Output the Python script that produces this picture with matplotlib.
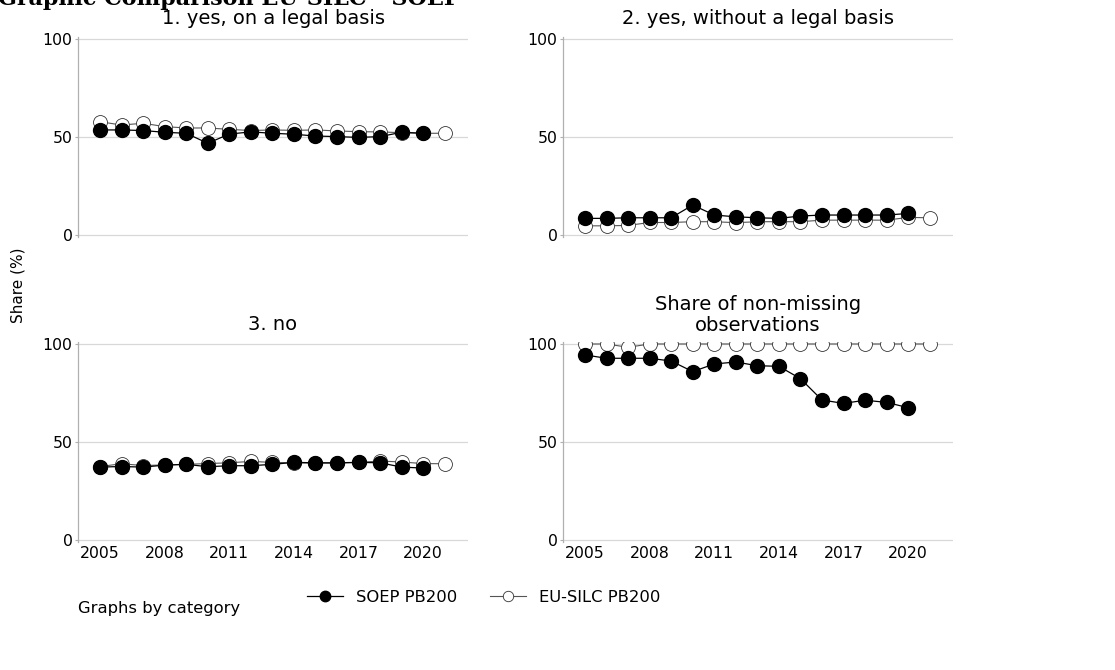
import matplotlib
matplotlib.use("Agg")
import matplotlib.pyplot as plt
from matplotlib.lines import Line2D

years = list(range(2005, 2021))
years_silc = list(range(2005, 2022))

titles = ["1. yes, on a legal basis", "2. yes, without a legal basis",
          "3. no", "Share of non-missing\nobservations"]

soep_legal = [53.6, 53.6, 53.3, 52.4, 51.9, 46.8, 51.5, 52.6, 51.9, 51.4,
              50.5, 50.2, 49.8, 50.2, 52.4, 51.9]
silc_legal = [57.8, 56.1, 57.0, 55.3, 54.6, 54.6, 53.9, 53.3, 53.6, 53.4,
              53.6, 53.1, 52.7, 52.6, 52.2, 51.9, 51.9]

soep_nolegal = [8.5, 8.5, 8.8, 8.8, 8.8, 15.3, 10.2, 9.3, 8.8, 8.5,
                9.7, 10.2, 10.2, 10.2, 10.2, 11.0]
silc_nolegal = [4.7, 4.7, 4.9, 6.4, 6.4, 6.8, 6.8, 6.3, 6.8, 6.8,
                6.8, 7.6, 7.6, 7.6, 7.6, 9.0, 8.8]

soep_no = [37.2, 37.5, 37.2, 38.2, 38.6, 37.4, 37.9, 37.9, 38.6, 39.6,
           39.4, 39.4, 39.6, 39.4, 37.2, 36.7]
silc_no = [37.5, 38.9, 38.0, 38.3, 38.6, 39.0, 39.4, 40.1, 39.6, 39.4,
           39.2, 39.2, 39.6, 40.3, 39.8, 39.0, 38.9]

soep_nonmiss = [94.4, 92.7, 92.7, 92.7, 91.3, 85.9, 89.8, 90.8, 88.9, 88.6,
                82.3, 71.4, 69.7, 71.3, 70.2, 67.5]
silc_nonmiss = [100, 100, 98.3, 100, 100, 100, 100, 100, 100, 100,
                100, 100, 100, 100, 100, 100, 100]

soep_all = [soep_legal, soep_nolegal, soep_no, soep_nonmiss]
silc_all = [silc_legal, silc_nolegal, silc_no, silc_nonmiss]

W, H = 1115, 670
fig = plt.figure(figsize=(W / 100, H / 100), dpi=100)

# panel boxes in pixels: left, top, right, bottom
boxes = [(78, 37, 468, 237), (563, 37, 953, 237),
         (78, 342, 468, 542), (563, 342, 953, 542)]

for i, (l, t, r, b) in enumerate(boxes):
    ax = fig.add_axes([l / W, 1 - b / H, (r - l) / W, (b - t) / H])
    ax.set_xlim(2003.98, 2022.08)
    ax.set_ylim(-1, 101)
    ax.set_yticks([0, 50, 100])
    ax.set_xticks(range(2005, 2021, 3))
    ax.grid(axis='y', color='#d8d8d8', linewidth=0.9)
    ax.set_axisbelow(True)
    for s in ['top', 'right', 'bottom']:
        ax.spines[s].set_visible(False)
    ax.spines['left'].set_color('#b0b0b0')
    ax.spines['left'].set_linewidth(0.9)
    ax.tick_params(axis='y', length=2, color='#b0b0b0', labelsize=11.3, pad=2)
    ax.tick_params(axis='x', length=0, labelsize=11.3, pad=3)
    if i < 2:
        ax.set_xticklabels([])
    ax.plot(years_silc, silc_all[i], color='#555555', linewidth=0.8,
            marker='o', markersize=10, markerfacecolor='white',
            markeredgecolor='#333333', markeredgewidth=0.6, zorder=2)
    ax.plot(years, soep_all[i], color='black', linewidth=0.9,
            marker='o', markersize=10, markerfacecolor='black',
            markeredgecolor='black', zorder=3)
    ax.set_title(titles[i], fontsize=14, pad=9 if i < 3 else 8,
                 linespacing=1.15)

# main title sits partly above the top edge, as in the source image
fig.text(-0.002, 1 - 5 / H, "Graphic Comparison EU-SILC - SOEP",
         family='DejaVu Serif', weight='bold', fontsize=16,
         ha='left', va='baseline')

fig.text(18 / W, 1 - 285 / H, "Share (%)", rotation=90, fontsize=11,
         ha='center', va='center')

fig.text(78 / W, 1 - 608 / H, "Graphs by category", fontsize=11.8,
         ha='left', va='center')

handles = [
    Line2D([], [], color='black', linewidth=0.9, marker='o', markersize=7.5,
           markerfacecolor='black', markeredgecolor='black'),
    Line2D([], [], color='#555555', linewidth=0.8, marker='o', markersize=7.5,
           markerfacecolor='white', markeredgecolor='#333333',
           markeredgewidth=0.6),
]
fig.legend(handles, ["SOEP PB200", "EU-SILC PB200"], ncol=2, frameon=False,
           loc='center left', bbox_to_anchor=(292 / W, 1 - 597 / H),
           fontsize=11.8, handlelength=2.2, columnspacing=2.0,
           handletextpad=0.8)

fig.savefig("out.png", dpi=100)
